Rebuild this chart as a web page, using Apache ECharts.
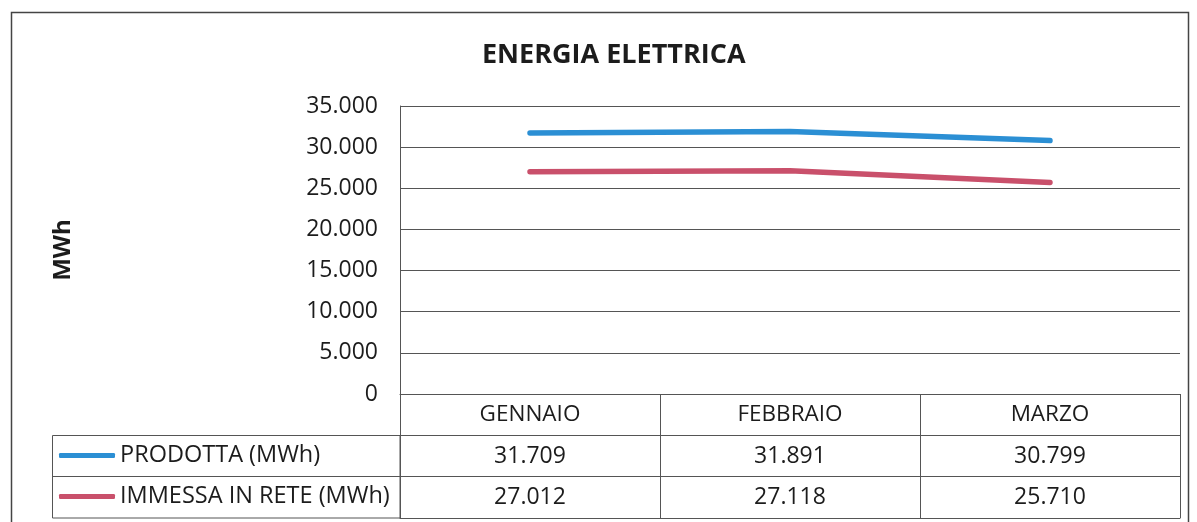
<!DOCTYPE html>
<html>
<head>
<meta charset="utf-8">
<script src="https://cdn.jsdelivr.net/npm/echarts@6/dist/echarts.min.js"></script>
<style>
	html, body { margin: 0; padding: 0; background: #fff; }
	#chart { width: 1197px; height: 522px; }
</style>
</head>
<body>
<div id="chart"></div>
<script>
	// dati
	var mesi = ['GENNAIO', 'FEBBRAIO', 'MARZO'];
	var prodotta = [31709, 31891, 30799];
	var immessa = [27012, 27118, 25710];
	var nomiSerie = ['PRODOTTA (MWh)', 'IMMESSA IN RETE (MWh)'];
	var yMin = 0, yMax = 35000, yStep = 5000;

	var font = '"Open Sans", sans-serif';
	var ink = '#1c1c1c';
	var grigio = '#555';

	// 31709 -> "31.709"
	function fmt(v) {
		return String(v).replace(/\B(?=(\d{3})+(?!\d))/g, '.');
	}

	var chart = echarts.init(document.getElementById('chart'));

	chart.setOption({
		backgroundColor: '#fff',
		animation: false,
		title: {
			text: 'ENERGIA ELETTRICA',
			left: 477,
			top: 35,
			textStyle: { fontFamily: font, fontSize: 27, fontWeight: 'bold', color: ink, lineHeight: 30 }
		},
		legend: {
			data: nomiSerie,
			orient: 'vertical',
			left: 54,
			top: 438.5,
			itemWidth: 56,
			itemHeight: 5,
			itemGap: 17,
			icon: 'roundRect',
			selectedMode: false,
			textStyle: { fontFamily: font, fontSize: 23.5, color: ink, lineHeight: 24, padding: [0, 0, 0, 0] }
		},
		grid: {
			left: 400,
			right: 17,
			top: 106,
			bottom: 128,
			outerBoundsMode: 'none'
		},
		xAxis: [{
			type: 'category',
			data: mesi,
			boundaryGap: true,
			axisLine: { show: true, lineStyle: { color: grigio, width: 1 } },
			axisTick: { show: true, interval: 0, length: 124, lineStyle: { color: grigio, width: 1 } },
			axisLabel: { interval: 0, margin: 10, fontFamily: font, fontSize: 22.5, lineHeight: 22, color: ink }
		}, {
			type: 'category',
			data: mesi,
			position: 'bottom',
			offset: 41,
			axisLine: { show: true, lineStyle: { color: grigio, width: 1 } },
			axisTick: { show: false },
			axisLabel: {
				interval: 0, margin: 10, fontFamily: font, fontSize: 23, lineHeight: 22, color: ink,
				formatter: function (v, i) { return fmt(prodotta[i]); }
			}
		}, {
			type: 'category',
			data: mesi,
			position: 'bottom',
			offset: 82,
			axisLine: { show: true, lineStyle: { color: grigio, width: 1 } },
			axisTick: { show: false },
			axisLabel: {
				interval: 0, margin: 10, fontFamily: font, fontSize: 23, lineHeight: 22, color: ink,
				formatter: function (v, i) { return fmt(immessa[i]); }
			}
		}, {
			type: 'category',
			data: mesi,
			position: 'bottom',
			offset: 124,
			axisLine: { show: true, lineStyle: { color: grigio, width: 1 } },
			axisTick: { show: false },
			axisLabel: { show: false }
		}],
		yAxis: {
			type: 'value',
			min: yMin,
			max: yMax,
			interval: yStep,
			name: 'MWh',
			nameLocation: 'middle',
			nameRotate: 90,
			nameGap: 325,
			nameTextStyle: { fontFamily: font, fontSize: 24, fontWeight: 'bold', color: ink },
			axisLine: { show: true, lineStyle: { color: grigio, width: 1 } },
			axisTick: { show: false },
			splitLine: { show: true, lineStyle: { color: grigio, width: 1 } },
			axisLabel: { margin: 22, fontFamily: font, fontSize: 23, color: ink, formatter: fmt }
		},
		series: [{
			name: nomiSerie[0],
			type: 'line',
			data: prodotta,
			showSymbol: false,
			symbol: 'none',
			color: '#2b8fd4',
			lineStyle: { width: 5.5, cap: 'round', join: 'round' }
		}, {
			name: nomiSerie[1],
			type: 'line',
			data: immessa,
			showSymbol: false,
			symbol: 'none',
			color: '#c9506b',
			lineStyle: { width: 5.5, cap: 'round', join: 'round' }
		}],
		graphic: [{
			// cornice esterna
			type: 'rect',
			shape: { x: 11.5, y: 12.5, width: 1177, height: 530 },
			style: { fill: null, stroke: '#444', lineWidth: 1.5 },
			silent: true
		}, {
			// celle legenda della tabella
			type: 'rect',
			shape: { x: 52.5, y: 435.5, width: 347.5, height: 82.5 },
			style: { fill: null, stroke: grigio, lineWidth: 1 },
			silent: true
		}, {
			type: 'line',
			shape: { x1: 52.5, y1: 476.5, x2: 400, y2: 476.5 },
			style: { stroke: grigio, lineWidth: 1 },
			silent: true
		}]
	});
</script>
</body>
</html>
